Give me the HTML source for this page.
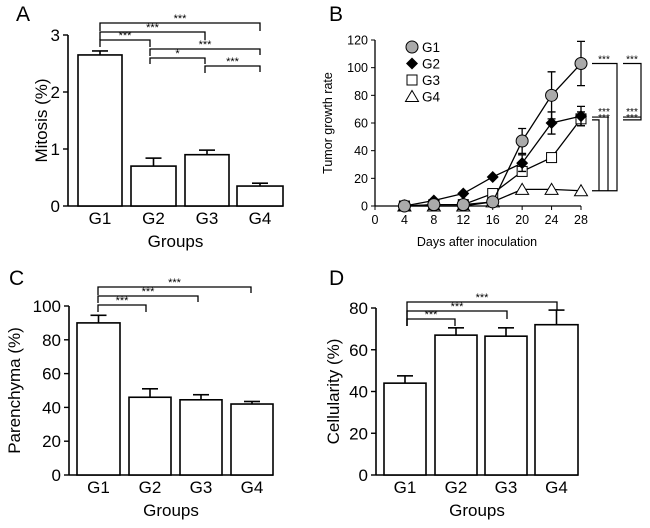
<!DOCTYPE html>
<html><head><meta charset="utf-8"><style>
html,body{margin:0;padding:0;background:#fff;}
svg{display:block;font-family:"Liberation Sans",Arial,sans-serif;}
</style></head><body>
<svg id="fig" width="650" height="528" viewBox="0 0 650 528"></svg>
<script>
const groups=["G1","G2","G3","G4"];
const mitosisVals=[2.65,0.7,0.9,0.35];
const mitosisErr=[0.07,0.14,0.08,0.05];
const mitosisTicks=[0,1,2,3];
const parenVals=[90,46,44.5,42];
const parenErr=[4.5,5,3,1.5];
const parenTicks=[0,20,40,60,80,100];
const cellVals=[44,67,66.5,72];
const cellErr=[3.5,3.5,4,7];
const cellTicks=[0,20,40,60,80];
const days=[4,8,12,16,20,24,28];
const dayTicks=[0,4,8,12,16,20,24,28];
const growthTicks=[0,20,40,60,80,100,120];
const g1=[0,1,1,3,47,80,103];
const g1Err=[0,0,0,0,9,17,16];
const g2=[0,4,9,21,31,60,65];
const g2Err=[0,0,0,0,6,8,7];
const g3=[0,1,1,9,25,35,63];
const g3Err=[0,0,0,0,0,0,5];
const g4=[0,0,0,3,12,12,11];
const g4Err=[0,0,0,0,0,0,0];

const NS="http://www.w3.org/2000/svg";
const svg=document.getElementById('fig');
function el(tag,attrs,parent,text){const e=document.createElementNS(NS,tag);for(const k in attrs)e.setAttribute(k,attrs[k]);if(text!==undefined)e.textContent=text;(parent||svg).appendChild(e);return e;}
function grp(name){const g=el('g',{});


return g;}

function barPanel(cfg){
 const g=grp(cfg.name);
 const y=v=>cfg.y0-(v/cfg.ymax)*(cfg.y0-cfg.ytop);
 const lab=el('text',{x:cfg.letterX,y:cfg.letterY,'font-size':21},g,cfg.letter);
 
 
 el('line',{x1:cfg.ax,y1:cfg.ytop,x2:cfg.ax,y2:cfg.y0,stroke:'#000','stroke-width':1.6},g);
 el('line',{x1:cfg.ax,y1:cfg.y0,x2:cfg.axEnd,y2:cfg.y0,stroke:'#000','stroke-width':1.6},g);
 cfg.ticks.forEach(t=>{const yy=y(t);
  el('line',{x1:cfg.ax-5,y1:yy,x2:cfg.ax,y2:yy,stroke:'#000','stroke-width':1.4},g);
  const tx=el('text',{x:cfg.ax-8,y:yy+6,'font-size':17,'text-anchor':'end'},g,t);
  
  
 });
 cfg.vals.forEach((v,i)=>{
  const x1=cfg.bx[i][0],x2=cfg.bx[i][1],cx=(x1+x2)/2;
  const b=el('rect',{x:x1,y:y(v),width:x2-x1,height:cfg.y0-y(v),fill:'#fff',stroke:'#000','stroke-width':1.6},g);
  
  
  const te=y(v+cfg.err[i]);
  el('line',{x1:cx,y1:y(v),x2:cx,y2:te,stroke:'#000','stroke-width':1.6},g);
  el('line',{x1:cx-8,y1:te,x2:cx+8,y2:te,stroke:'#000','stroke-width':1.6},g);
  const gl=el('text',{x:cx,y:cfg.y0+18,'font-size':17,'text-anchor':'middle'},g,groups[i]);
  
  
 });
 const xt=el('text',{x:(cfg.ax+cfg.axEnd)/2,y:cfg.y0+41,'font-size':17,'text-anchor':'middle'},g,'Groups');
 
 
 const yt=el('text',{x:0,y:0,'font-size':17,'text-anchor':'middle',transform:`translate(${cfg.ytX},${(cfg.ytop+cfg.y0)/2}) rotate(-90)`},g,cfg.ytitle);
 
 
 cfg.brackets.forEach(br=>{
  const xa=cfg.cx[br[0]],xb=cfg.cx[br[1]],by=br[2];
  const p=el('path',{d:`M${xa},${by+br[3]}V${by}H${xb}V${by+br[4]}`,fill:'none',stroke:'#000','stroke-width':1.3},g);
  
  
  el('text',{x:(xa+xb)/2,y:by-1,'font-size':11,'text-anchor':'middle'},g,br[5]);
 });
}

barPanel({name:'panel-a-mitosis',letter:'A',letterX:16,letterY:21,ax:68,axEnd:283,ytop:35,y0:206,ymax:3,ticks:mitosisTicks,vals:mitosisVals,err:mitosisErr,
 bx:[[78,122],[131,176],[185,229],[237,283]],cx:[100,150,205,260],ytitle:'Mitosis (%)',ytX:47,
 brackets:[[0,3,23,8,8,'***'],[0,2,32,8,8,'***'],[0,1,40,7,7,'***'],[1,3,49,7,6,'***'],[1,2,58,6,6,'*'],[2,3,66,7,6,'***']]});
barPanel({name:'panel-c-parenchyma',letter:'C',letterX:9,letterY:285,ax:69,axEnd:273,ytop:306,y0:475,ymax:100,ticks:parenTicks,vals:parenVals,err:parenErr,
 bx:[[77,120],[129,171],[180,222],[231,273]],cx:[98,146,198,251],ytitle:'Parenchyma (%)',ytX:20,
 brackets:[[0,3,287,8,6,'***'],[0,2,296,7,6,'***'],[0,1,305,7,7,'***']]});
barPanel({name:'panel-d-cellularity',letter:'D',letterX:329,letterY:285,ax:376,axEnd:578,ytop:308,y0:475,ymax:80,ticks:cellTicks,vals:cellVals,err:cellErr,
 bx:[[384,426],[435,477],[485,527],[535,578]],cx:[407,455,507,557],ytitle:'Cellularity (%)',ytX:339,
 brackets:[[0,3,302,24,8,'***'],[0,2,311,15,8,'***'],[0,1,319,7,7,'***']]});

// Panel B
(function(){
 const g=grp('panel-b-tumor-growth');
 const X=d=>375+d*(581-375)/28;
 const Y=v=>206-v*(206-40)/120;
 const lab=el('text',{x:329,y:21,'font-size':21},g,'B');
 
 
 el('line',{x1:375,y1:40,x2:375,y2:206,stroke:'#000','stroke-width':1.3},g);
 el('line',{x1:375,y1:206,x2:581,y2:206,stroke:'#000','stroke-width':1.3},g);
 growthTicks.forEach(t=>{el('line',{x1:371,y1:Y(t),x2:375,y2:Y(t),stroke:'#000'},g);
  const tx=el('text',{x:368,y:Y(t)+4.5,'font-size':12.5,'text-anchor':'end'},g,t);
  
  });
 dayTicks.forEach(t=>{el('line',{x1:X(t),y1:206,x2:X(t),y2:210,stroke:'#000'},g);
  const tx=el('text',{x:X(t),y:224,'font-size':12.5,'text-anchor':'middle'},g,t);
  
  });
 const xt=el('text',{x:477,y:246,'font-size':12.5,'text-anchor':'middle'},g,'Days after inoculation');
 
 
 const yt=el('text',{x:0,y:0,'font-size':12.5,'text-anchor':'middle',transform:'translate(332,123) rotate(-90)'},g,'Tumor growth rate');
 
 
 function marker(type,x,y,parent){
  if(type==='circle')return el('circle',{cx:x,cy:y,r:6,fill:'#aaa',stroke:'#000','stroke-width':1},parent);
  if(type==='diamond')return el('path',{d:`M${x},${y-6}L${x+6},${y}L${x},${y+6}L${x-6},${y}Z`,fill:'#000'},parent);
  if(type==='square')return el('rect',{x:x-5,y:y-5,width:10,height:10,fill:'#fff',stroke:'#000','stroke-width':1},parent);
  return el('path',{d:`M${x},${y-6}L${x+6.5},${y+5}L${x-6.5},${y+5}Z`,fill:'#fff',stroke:'#000','stroke-width':1},parent);
 }
 const series=[['g4',g4,g4Err,'triangle'],['g3',g3,g3Err,'square'],['g2',g2,g2Err,'diamond'],['g1',g1,g1Err,'circle']];
 series.forEach(s=>{
  const sg=grp('series-'+s[0]);g.appendChild(sg);
  const line=el('polyline',{points:days.map((d,i)=>X(d)+','+Y(s[1][i])).join(' '),fill:'none',stroke:'#000','stroke-width':1.3},sg);
  
  
  days.forEach((d,i)=>{if(s[2][i]>0){const x=X(d);
    el('path',{d:`M${x-4},${Y(s[1][i]+s[2][i])}H${x+4}M${x},${Y(s[1][i]+s[2][i])}V${Y(s[1][i]-s[2][i])}M${x-4},${Y(s[1][i]-s[2][i])}H${x+4}`,stroke:'#000','stroke-width':1.3,fill:'none'},sg);}
   const m=marker(s[3],X(d),Y(s[1][i]),sg);
   
   });
 });
 const legend=[['G1','circle'],['G2','diamond'],['G3','square'],['G4','triangle']];
 legend.forEach((l,i)=>{const lg=grp('legend-entry');g.appendChild(lg);
  const yy=47+i*16.5;marker(l[1],412,yy,lg);
  el('text',{x:422,y:yy+5,'font-size':13.5},lg,l[0]);});
 // significance brackets
 const sg=grp('significance-brackets');g.appendChild(sg);
 const yG1=Y(g1[6]),yG2=Y(g2[6])+1,yG3=Y(g3[6])+1,yG4=Y(g4[6]);
 el('path',{d:`M592,${yG1}H617V${yG4}H592M592,${yG2}H608V${yG4}M592,${yG3}H599V${yG4}`,fill:'none',stroke:'#000','stroke-width':1.2},sg);
 el('path',{d:`M623,${yG1}H641V${yG3}H623M623,${yG2}H641`,fill:'none',stroke:'#000','stroke-width':1.2},sg);
 [[604,yG1],[604,yG2-1],[604,yG3+2],[632,yG1],[632,yG2-1],[632,yG3+2]].forEach(p=>el('text',{x:p[0],y:p[1]-1,'font-size':10,'text-anchor':'middle'},sg,'***'));
})();
</script>
</body></html>
